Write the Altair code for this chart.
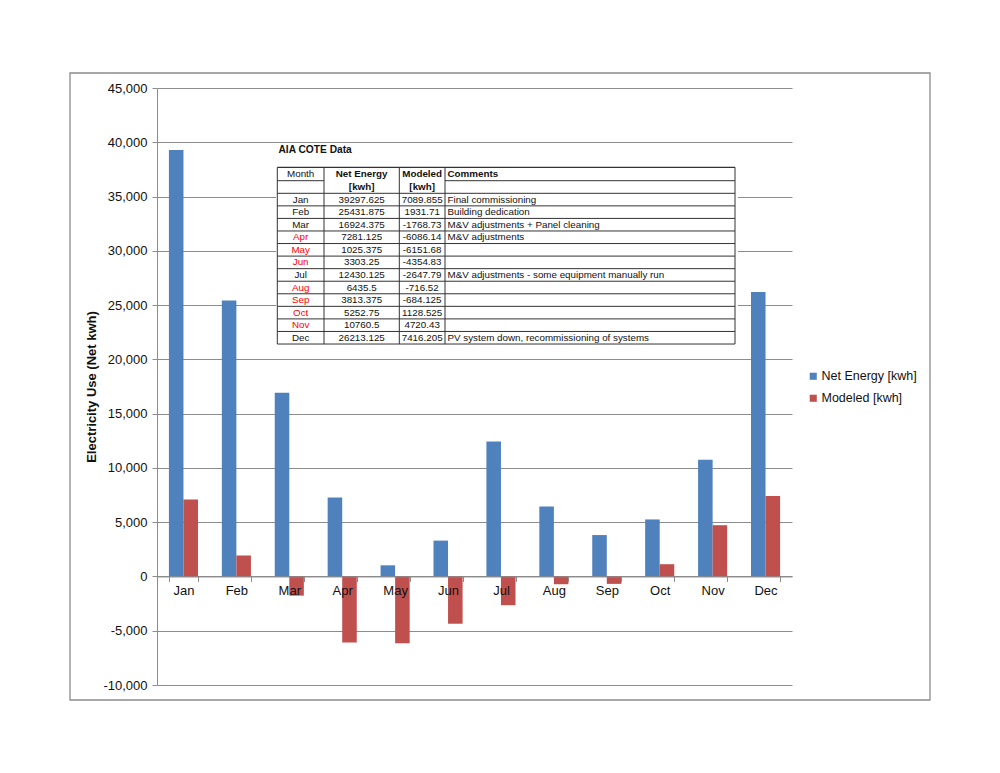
import altair as alt
import pandas as pd

# ---------------- data ----------------
months = ["Jan", "Feb", "Mar", "Apr", "May", "Jun", "Jul", "Aug", "Sep", "Oct", "Nov", "Dec"]
net_energy = [39297.625, 25431.875, 16924.375, 7281.125, 1025.375, 3303.25,
              12430.125, 6435.5, 3813.375, 5252.75, 10760.5, 26213.125]
modeled = [7089.855, 1931.71, -1768.73, -6086.14, -6151.68, -4354.83,
           -2647.79, -716.52, -684.125, 1128.525, 4720.43, 7416.205]
comments = ["Final commissioning", "Building dedication", "M&V adjustments + Panel cleaning",
            "M&V adjustments", "", "", "M&V adjustments - some equipment manually run",
            "", "", "", "", "PV system down, recommissioning of systems"]
red_months = ["Apr", "May", "Jun", "Aug", "Sep", "Oct", "Nov"]
series = ["Net Energy [kwh]", "Modeled [kwh]"]
colors = ["#4F81BD", "#C0504D"]
y_ticks = list(range(-10000, 45001, 5000))

# ---------------- layout (pixels, relative to plot origin) ----------------
W, H = 635, 597
Y_MIN, Y_MAX = -10000, 45000
zero_offset = -H * (0 - Y_MIN) / (Y_MAX - Y_MIN)
FONT = "Liberation Sans"
tab_cols = [120.3, 167.0, 242.3, 288.0, 578.0]
tab_top, tab_mid, tab_rows0, row_h = 79.3, 92.7, 105.3, 12.56
tab_bottom = tab_rows0 + 12 * row_h
TFS = 9.8


def px_to_val(expr):
    # converts a pixel expression (from plot top) to a value on the shared y scale
    return f"{Y_MAX} - ({expr}) * {(Y_MAX - Y_MIN) / H}"


bars_df = pd.DataFrame({
    "month": months * 2,
    "series": [series[0]] * 12 + [series[1]] * 12,
    "value": net_energy + modeled,
})

table_df = pd.DataFrame({
    "month": months,
    "net_s": [str(v) for v in net_energy],
    "mod_s": [str(v) for v in modeled],
    "comment": comments,
    "red": [m in red_months for m in months],
    "row": list(range(12)),
})

one = pd.DataFrame({"a": [0]})

# outer border
border = alt.Chart(one).mark_rect(fill="transparent", stroke="#8c8c8c", strokeWidth=1.3).encode(
    x=alt.value(-87), x2=alt.value(773), y=alt.value(-15), y2=alt.value(612)
)

bars = alt.Chart(bars_df).mark_bar().encode(
    x=alt.X("month:N", sort=months,
            scale=alt.Scale(paddingInner=0.45, paddingOuter=0.225),
            axis=alt.Axis(title=None, orient="bottom", offset=zero_offset, grid=False,
                          tickBand="extent", tickSize=5, tickColor="#8c8c8c",
                          domainColor="#8c8c8c", labelFont=FONT, labelFontSize=13,
                          labelColor="#111", labelPadding=3, labelAngle=0, zindex=1)),
    xOffset=alt.XOffset("series:N", sort=series, scale=alt.Scale(paddingInner=0, paddingOuter=0)),
    y=alt.Y("value:Q", scale=alt.Scale(domain=[Y_MIN, Y_MAX], nice=False, zero=False),
            axis=alt.Axis(values=y_ticks,
                          labelExpr="replace(format(datum.value, ','), '\u2212', '-')",
                          title="Electricity Use (Net kwh)", titleFont=FONT, titleFontSize=13,
                          titleFontWeight="bold", titleColor="#111", titlePadding=4,
                          labelFont=FONT, labelFontSize=13, labelColor="#111", labelPadding=5,
                          tickSize=5, tickColor="#8c8c8c", domainColor="#8c8c8c",
                          gridColor="#8c8c8c", gridWidth=1)),
    color=alt.Color("series:N", sort=series,
                    scale=alt.Scale(domain=series, range=colors),
                    legend=alt.Legend(title=None, orient="none", legendX=650, legendY=282,
                                      symbolType="square", symbolSize=50, symbolStrokeWidth=0,
                                      labelFont=FONT, labelFontSize=12.5, labelColor="#111",
                                      rowPadding=9, labelOffset=2)),
)

# table background
tab_bg = alt.Chart(one).mark_rect(fill="white").encode(
    x=alt.value(119), x2=alt.value(581), y=alt.value(55), y2=alt.value(259)
)

# horizontal lines of the table body
hlines_df = pd.DataFrame({"k": list(range(13))})
hlines = alt.Chart(hlines_df).mark_rule(color="#333", strokeWidth=1).encode(
    x=alt.value(tab_cols[0]), x2=alt.value(tab_cols[-1]),
    y=alt.Y("yv:Q"),
).transform_calculate(yv=px_to_val(f"{tab_rows0} + {row_h} * datum.k"))

top_line = alt.Chart(one).mark_rule(color="#333", strokeWidth=1.2).encode(
    x=alt.value(tab_cols[0]), x2=alt.value(tab_cols[-1]), y=alt.value(tab_top))
mid1 = alt.Chart(one).mark_rule(color="#333").encode(
    x=alt.value(tab_cols[0]), x2=alt.value(tab_cols[1]), y=alt.value(tab_mid))
mid2 = alt.Chart(one).mark_rule(color="#333").encode(
    x=alt.value(tab_cols[3]), x2=alt.value(tab_cols[4]), y=alt.value(tab_mid))

vlines = [
    alt.Chart(one).mark_rule(color="#333", strokeWidth=1).encode(
        x=alt.value(cx), x2=alt.value(cx), y=alt.value(tab_top), y2=alt.value(tab_bottom))
    for cx in tab_cols
]


def header(txt, x, y, align="center", bold=True, size=TFS):
    return alt.Chart(one).mark_text(text=txt, align=align, baseline="middle", font=FONT,
                                    fontSize=size, fontWeight="bold" if bold else "normal",
                                    color="#111").encode(x=alt.value(x), y=alt.value(y))


c_month = (tab_cols[0] + tab_cols[1]) / 2
c_net = (tab_cols[1] + tab_cols[2]) / 2
c_mod = (tab_cols[2] + tab_cols[3]) / 2
h1, h2 = 86, 99.2

headers = [
    header("AIA COTE Data", 121.5, 61.5, align="left", size=10.2),
    header("Month", c_month, h1, bold=False),
    header("Net Energy", c_net, h1),
    header("Modeled", c_mod, h1),
    header("Comments", tab_cols[3] + 2.5, h1, align="left"),
    header("[kwh]", c_net, h2),
    header("[kwh]", c_mod, h2),
]

ycalc = px_to_val(f"{tab_rows0 + row_h / 2} + {row_h} * datum.row")


def col_text(field, x, align="center", color=None):
    enc = dict(x=alt.value(x), y=alt.Y("ty:Q"), text=alt.Text(f"{field}:N"))
    if color is not None:
        enc["color"] = color
    return alt.Chart(table_df).mark_text(align=align, baseline="middle", font=FONT,
                                         fontSize=TFS, color="#111").encode(**enc).transform_calculate(ty=ycalc)


month_txt = col_text("month", c_month,
                     color=alt.condition("datum.red", alt.value("#FF0000"), alt.value("#111")))
net_txt = col_text("net_s", c_net)
mod_txt = col_text("mod_s", c_mod)
com_txt = col_text("comment", tab_cols[3] + 2.5, align="left")

chart = alt.layer(
    border, bars, tab_bg, hlines, top_line, mid1, mid2, *vlines, *headers,
    month_txt, net_txt, mod_txt, com_txt
).properties(
    width=W, height=H,
    padding={"left": 149, "top": 80, "right": 200, "bottom": 80},
    autosize=alt.AutoSizeParams(type="none"),
).configure(font=FONT, background="white").configure_view(stroke="transparent")

chart.save("out.html", embed_options={"renderer": "svg", "actions": False})
